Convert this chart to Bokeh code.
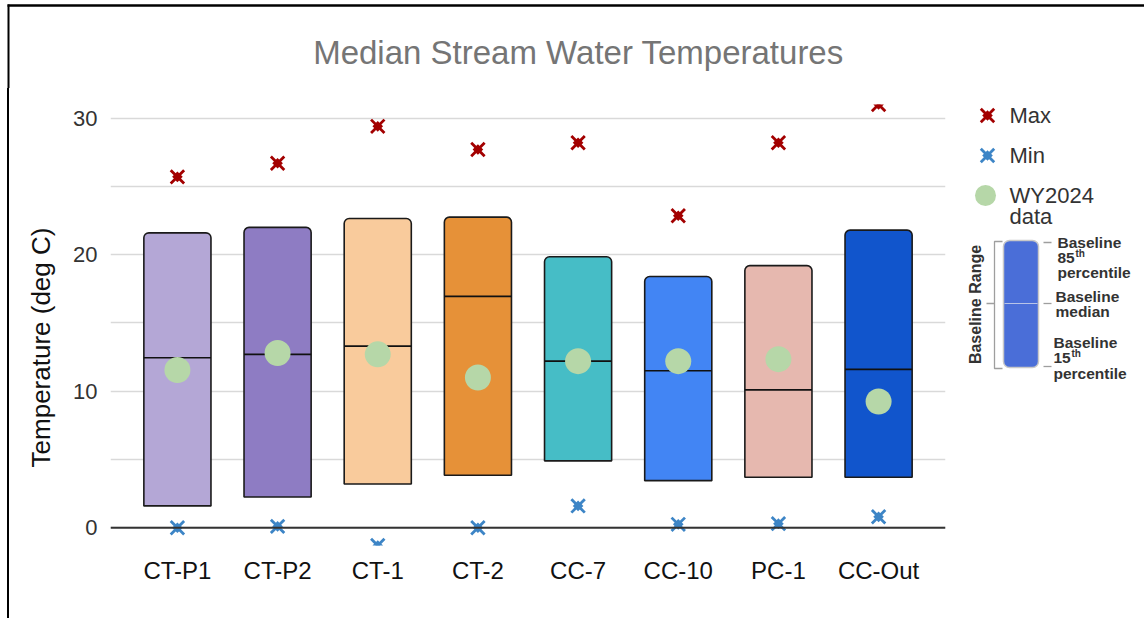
import numpy as np
from bokeh.plotting import figure
from bokeh.layouts import row, column
from bokeh.models import Range1d, FixedTicker, Span, ColumnDataSource
from bokeh.core.properties import value
from bokeh.embed import file_html
from bokeh.resources import INLINE

# ---------------- data ----------------
categories = ["CT-P1", "CT-P2", "CT-1", "CT-2", "CC-7", "CC-10", "PC-1", "CC-Out"]
baseline_p85 = [21.6, 22.0, 22.65, 22.75, 19.85, 18.4, 19.2, 21.8]
baseline_p15 = [1.6, 2.25, 3.2, 3.85, 4.9, 3.45, 3.7, 3.7]
baseline_median = [12.45, 12.7, 13.3, 16.95, 12.2, 11.5, 10.1, 11.6]
wy2024 = [11.55, 12.8, 12.7, 11.0, 12.2, 12.2, 12.35, 9.25]
temp_max = [25.7, 26.7, 29.4, 27.7, 28.2, 22.85, 28.2, 31.0]
temp_min = [0.0, 0.1, -1.3, 0.0, 1.6, 0.25, 0.3, 0.8]
bar_colors = ["#b4a7d6", "#8e7cc3", "#f9cb9c", "#e69138", "#46bdc6", "#4285f4", "#e6b8af", "#1155cc"]
y_ticks = [0, 10, 20, 30]
y_minor = [5, 15, 25]

FONT = "Liberation Sans"
MAX_COLOR = "#a30000"
MIN_COLOR = "#3d85c6"
DOT_COLOR = "#b6d7a8"
BAR_W = 0.67
TOP, BOTTOM = 16, 73          # shared borders of the plots in the row
ROW_H = 530

xs = np.arange(len(categories))
src = ColumnDataSource(dict(
    x=xs, top=baseline_p85, bottom=baseline_p15, med=baseline_median,
    x0=xs - BAR_W / 2, x1=xs + BAR_W / 2, wy=wy2024, mx=temp_max, mn=temp_min,
    color=bar_colors,
))


def blank(fig):
    fig.outline_line_color = None
    fig.xaxis.visible = False
    fig.yaxis.visible = False
    fig.grid.visible = False


def star(fig, x, y, color, source=None):
    kw = dict(source=source) if source is not None else {}
    fig.scatter(x=x, y=y, marker="x", size=19, line_width=2.8, line_color=color, **kw)
    fig.scatter(x=x, y=y, marker="square", size=7.5, angle=np.pi / 4,
                fill_color=color, line_color=None, **kw)


# ---------------- title strip ----------------
tfig = figure(width=1144, height=88, output_backend="svg", toolbar_location=None,
              x_range=Range1d(0, 1144), y_range=Range1d(-88, 0),
              min_border=0, min_border_left=0, min_border_right=0,
              min_border_top=0, min_border_bottom=0)
blank(tfig)
tfig.text(x=[578], y=[-52], text=["Median Stream Water Temperatures"],
          text_font=value(FONT), text_font_size="33px", text_color="#757575",
          text_align="center", text_baseline="middle")
tfig.segment(x0=[7], x1=[1144], y0=[-5], y1=[-5], line_color="#000000", line_width=2.5)
tfig.segment(x0=[8], x1=[8], y0=[-4], y1=[-88], line_color="#000000", line_width=2)

# ---------------- y-axis title strip ----------------
sfig = figure(width=60, height=ROW_H, output_backend="svg", toolbar_location=None,
              x_range=Range1d(0, 60), y_range=Range1d(-545, -104),
              min_border_left=0, min_border_right=0,
              min_border_top=TOP, min_border_bottom=BOTTOM)
blank(sfig)
sfig.text(x=[40], y=[-347], text=["Temperature (deg C)"], angle=np.pi / 2,
          text_font=value(FONT), text_font_size="26px", text_color="#111111",
          text_align="center", text_baseline="middle")

# ---------------- main figure ----------------
p = figure(width=895, height=ROW_H, output_backend="svg", toolbar_location=None,
           x_range=Range1d(-0.668, 7.668), y_range=Range1d(-1.3, 31.0),
           min_border_left=50, min_border_right=10,
           min_border_top=TOP, min_border_bottom=BOTTOM)
p.outline_line_color = None

p.xgrid.grid_line_color = None
p.ygrid.grid_line_color = "#d9d9d9"
p.ygrid.grid_line_width = 1.5
p.ygrid.minor_grid_line_color = "#d9d9d9"
p.ygrid.minor_grid_line_width = 1.5

p.yaxis.ticker = FixedTicker(ticks=y_ticks, minor_ticks=y_minor)
p.yaxis.axis_line_color = None
p.yaxis.major_tick_line_color = None
p.yaxis.minor_tick_line_color = None
p.yaxis.major_tick_out = 0
p.yaxis.major_tick_in = 0
p.yaxis.major_label_standoff = 9
p.yaxis.major_label_text_font = FONT
p.yaxis.major_label_text_font_size = "22px"
p.yaxis.major_label_text_color = "#333333"

p.xaxis.ticker = FixedTicker(ticks=list(xs))
p.xaxis.major_label_overrides = {int(i): c for i, c in zip(xs, categories)}
p.xaxis.axis_line_color = None
p.xaxis.major_tick_line_color = None
p.xaxis.minor_tick_line_color = None
p.xaxis.major_tick_out = 0
p.xaxis.major_tick_in = 0
p.xaxis.major_label_standoff = 11
p.xaxis.major_label_text_font = FONT
p.xaxis.major_label_text_font_size = "24px"
p.xaxis.major_label_text_color = "#111111"

p.add_layout(Span(location=0, dimension="width", line_color="#333333", line_width=2))

p.vbar(x="x", width=BAR_W, top="top", bottom="bottom", source=src,
       fill_color="color", line_color="#1a1a1a", line_width=1.6,
       border_radius=(5, 5, 0, 0))
p.segment(x0="x0", x1="x1", y0="med", y1="med", source=src,
          line_color="#111111", line_width=1.7)
p.scatter(x="x", y="wy", source=src, size=26, fill_color=DOT_COLOR, line_color=None)
star(p, "x", "mx", MAX_COLOR, src)
star(p, "x", "mn", MIN_COLOR, src)

# ---------------- legend figure ----------------
leg = figure(width=189, height=ROW_H, output_backend="svg", toolbar_location=None,
             x_range=Range1d(955, 1144), y_range=Range1d(-545, -104),
             min_border_left=0, min_border_right=0,
             min_border_top=TOP, min_border_bottom=BOTTOM)
blank(leg)

star(leg, [987], [-115], MAX_COLOR)
star(leg, [987], [-155], MIN_COLOR)
leg.scatter(x=[985], y=[-195], size=21, fill_color=DOT_COLOR, line_color=None)
leg.text(x=[1009, 1009, 1009, 1009], y=[-115, -155, -195, -216],
         text=["Max", "Min", "WY2024", "data"],
         text_font=value(FONT), text_font_size="22px", text_color="#333333",
         text_baseline="middle", text_align="left")

leg.quad(left=[1003], right=[1038], top=[-240], bottom=[-367],
         fill_color="#4a6ed8", line_color="#c8c8c8", line_width=1.5, border_radius=6)
leg.segment(x0=[1004], x1=[1037], y0=[-303], y1=[-303], line_color="#b8c4e8", line_width=1.2)
leg.multi_line(xs=[[1002, 994, 994, 1002], [986, 994], [1043, 1051], [1043, 1051], [1043, 1051]],
               ys=[[-241, -241, -368, -368], [-303, -303], [-242, -242], [-303, -303], [-366, -366]],
               line_color="#9e9e9e", line_width=1.3)
leg.text(x=[975], y=[-304], text=["Baseline Range"], angle=np.pi / 2,
         text_font=value(FONT), text_font_size="16px", text_font_style="bold",
         text_color="#333333", text_align="center", text_baseline="middle")
leg.text(x=[1057, 1057, 1057, 1055, 1055, 1053, 1053, 1053],
         y=[-242, -257, -272, -296, -311, -342, -357, -373],
         text=["Baseline", "85", "percentile", "Baseline", "median", "Baseline", "15", "percentile"],
         text_font=value(FONT), text_font_size="15.5px", text_font_style="bold",
         text_color="#333333", text_align="left", text_baseline="middle")
leg.text(x=[1075, 1071], y=[-253, -353], text=["th", "th"],
         text_font=value(FONT), text_font_size="10px", text_font_style="bold",
         text_color="#333333", text_align="left", text_baseline="middle")

body = row(sfig, p, leg)
body.stylesheets = [":host::after { content: ''; position: absolute; left: 7px; top: 0px; "
                    "bottom: 0px; width: 2px; background: #000000; pointer-events: none; z-index: 10; }"]
layout = column(tfig, body)

open("out.html", "w").write(file_html(layout, INLINE))
